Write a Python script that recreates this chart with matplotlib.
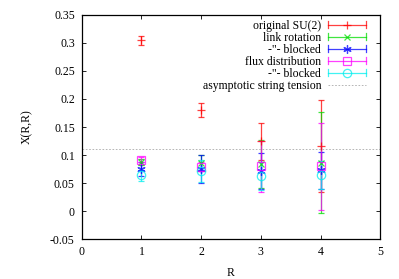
import matplotlib
matplotlib.use("Agg")
import matplotlib.pyplot as plt
from matplotlib.lines import Line2D
from matplotlib.legend_handler import HandlerBase
import numpy as np

R = [1, 2, 3, 4]
orig_val = [0.305, 0.180, 0.125, 0.116]
orig_err = [0.008, 0.012, 0.033, 0.082]
link_val = [0.088, 0.086, 0.084, 0.086]
link_err = [0.005, 0.015, 0.043, 0.090]
linkb_val = [0.075, 0.075, 0.072, 0.073]
linkb_err = [0.012, 0.025, 0.032, 0.033]
flux_val = [0.092, 0.079, 0.080, 0.080]
flux_err = [0.004, 0.008, 0.045, 0.077]
fluxb_val = [0.064, 0.072, 0.062, 0.065]
fluxb_err = [0.010, 0.020, 0.025, 0.025]
asym = 0.111

labels = ["original SU(2)", "link rotation", "-\"- blocked", "flux distribution", "-\"- blocked"]
asym_label = "asymptotic string tension"

plt.rcParams['font.family'] = ['Liberation Serif', 'DejaVu Serif']
fig = plt.figure(figsize=(3.99, 2.79), dpi=100)
ax = fig.add_axes([0.2048, 0.1423, 0.7483, 0.8047])

series = [
    (orig_val, orig_err, '#ff0000', '+', dict(ms=6, mfc='none')),
    (link_val, link_err, '#00dd00', 'x', dict(ms=5, mfc='none')),
    (linkb_val, linkb_err, '#0000ff', (6, 2, 0), dict(ms=6, mfc='none')),
    (flux_val, flux_err, '#ff00ff', 's', dict(ms=6, mfc='none')),
    (fluxb_val, fluxb_err, '#00eeee', 'o', dict(ms=6, mfc='none')),
]


class ErrHandler(HandlerBase):
    def create_artists(self, legend, orig, xdescent, ydescent, width, height, fontsize, trans):
        c = orig.get_color()
        y = height / 2 - ydescent
        x0, x1 = -xdescent, width - xdescent
        cap = 2.5
        arts = [
            Line2D([x0, x1], [y, y], color=c, lw=0.9, alpha=0.75),
            Line2D([x0, x0], [y - cap, y + cap], color=c, lw=0.9, alpha=0.75),
            Line2D([x1, x1], [y - cap, y + cap], color=c, lw=0.9, alpha=0.75),
            Line2D([(x0 + x1) / 2], [y], color=c, marker=orig.get_marker(),
                   ms=orig.get_markersize(), mfc='none', mew=0.9, alpha=0.75, ls='none'),
        ]
        for a in arts:
            a.set_transform(trans)
        return arts


handles = []
for (v, e, c, m, kw), lab in zip(series, labels):
    ax.errorbar(R, v, yerr=e, marker=m, ls='none', color=c, ecolor=c, elinewidth=0.9,
                capsize=2.5, capthick=0.9, mew=0.9, alpha=0.75, **kw)
    handles.append(Line2D([], [], color=c, marker=m, ms=kw['ms'], label=lab))

asym_line = ax.axhline(asym, color='#aaaaaa', lw=0.6, ls=(0, (2, 2)), label=asym_label)

ax.set_xlim(0, 5)
ax.set_ylim(-0.05, 0.35)
ax.set_xticks([0, 1, 2, 3, 4, 5])
yt = [-0.05, 0, 0.05, 0.1, 0.15, 0.2, 0.25, 0.3, 0.35]
ax.set_yticks(yt)
ax.set_yticklabels(["-0.05", "0", "0.05", "0.1", "0.15", "0.2", "0.25", "0.3", "0.35"])
ax.tick_params(direction='in', top=True, right=True, labelsize=8.5, length=3, width=0.6, pad=5)
for s in ax.spines.values():
    s.set_linewidth(0.9)
ax.set_xlabel("R", fontsize=8.5, labelpad=6)
ax.set_ylabel("X(R,R)", fontsize=8.5, labelpad=12)

hmap = {h: ErrHandler() for h in handles}
leg = ax.legend(handles + [asym_line], labels + [asym_label],
                handler_map=hmap,
                loc='upper right', bbox_to_anchor=(0.968, 0.998), frameon=False,
                markerfirst=False, fontsize=8.5,
                handlelength=3.2, handletextpad=0.6, labelspacing=0.0,
                borderaxespad=0.0)
for t in leg.get_texts():
    t.set_ha('right')

fig.savefig("out.png", dpi=100)
